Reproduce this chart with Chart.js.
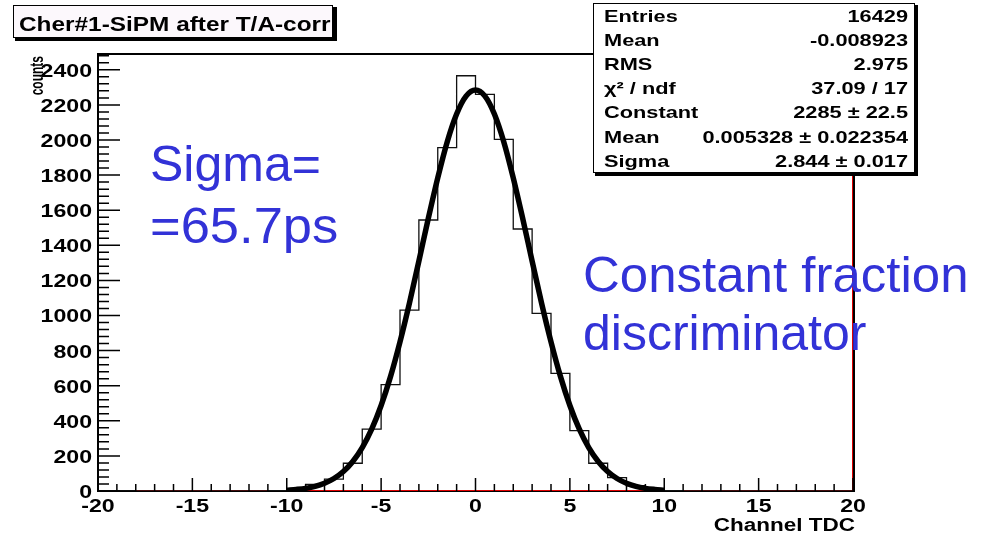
<!DOCTYPE html>
<html>
<head>
<meta charset="utf-8">
<script src="https://cdn.jsdelivr.net/npm/chart.js@4.4.1/dist/chart.umd.min.js"></script>
<style>
  html, body { margin: 0; padding: 0; background: #fff; }
  canvas { display: block; }
</style>
</head>
<body>
<canvas id="myChart" width="985" height="535"></canvas>
<script>
// bin low edges (width 1) + last upper edge
const binEdges = [-20, -19, -18, -17, -16, -15, -14, -13, -12, -11, -10, -9, -8, -7, -6, -5, -4, -3, -2, -1,
                  0, 1, 2, 3, 4, 5, 6, 7, 8, 9, 10, 11, 12, 13, 14, 15, 16, 17, 18, 19, 20];
// counts per bin
const binCounts = [0, 0, 0, 0, 0, 0, 0, 0, 0, 2, 10, 38, 68, 158, 352, 606, 1031, 1544, 1956, 2366,
                   2260, 2004, 1493, 1012, 670, 344, 158, 76, 30, 8, 2, 0, 0, 0, 0, 0, 0, 0, 0, 0];

// gaussian fit curve
const fitX = [-10, -9.5, -9, -8.5, -8, -7.5, -7, -6.5, -6, -5.5, -5, -4.5, -4, -3.5, -3, -2.5, -2, -1.5, -1, -0.5,
              0, 0.5, 1, 1.5, 2, 2.5, 3, 3.5, 4, 4.5, 5, 5.5, 6, 6.5, 7, 7.5, 8, 8.5, 9, 9.5, 10];
const fitY = [5, 9, 15, 26, 44, 71, 111, 168, 247, 352, 487, 653, 850, 1071, 1310, 1553, 1784, 1989, 2148, 2250,
              2285, 2250, 2148, 1989, 1784, 1553, 1310, 1071, 850, 653, 487, 352, 247, 168, 111, 71, 44, 26, 15, 9, 5];

// red outline (second histogram)
const redX = [-18, 20, 20];
const redY = [0, 0, 2490];

// tick labels
const xTickLabels = [-20, -15, -10, -5, 0, 5, 10, 15, 20];
const yTickLabels = [0, 200, 400, 600, 800, 1000, 1200, 1400, 1600, 1800, 2000, 2200, 2400];

// stats box
const statNames = ['Entries', 'Mean', 'RMS', 'χ² / ndf', 'Constant', 'Mean', 'Sigma'];
const statValues = ['16429', '-0.008923', '2.975', '37.09 / 17', '2285 ± 22.5', '0.005328 ± 0.022354', '2.844 ± 0.017'];

const FONT = '"Liberation Sans", Arial, sans-serif';
const SX = 1.25; // picture is stretched sideways

function sText(ctx, str, x, y, align, font, sx) {
    ctx.save();
    ctx.font = font;
    ctx.translate(x, y);
    ctx.scale(sx, 1);
    ctx.textAlign = align;
    ctx.textBaseline = 'alphabetic';
    ctx.fillText(str, 0, 0);
    ctx.restore();
}

const histPoints = binCounts.map((c, i) => ({ x: binEdges[i], y: c }));
histPoints.push({ x: binEdges[binEdges.length - 1], y: binCounts[binCounts.length - 1] });

// frame
const rootFrame = {
    id: 'rootFrame',
    beforeDatasetsDraw(chart) {
        const { ctx, chartArea: { left, right, top, bottom } } = chart;
        ctx.save();
        ctx.strokeStyle = '#000';
        ctx.lineWidth = 2;
        ctx.strokeRect(left, top, right - left + 1, bottom - top);
        ctx.restore();
    }
};

// ticks and labels, ROOT style (ticks inside)
const rootAxes = {
    id: 'rootAxes',
    afterDatasetsDraw(chart) {
        const { ctx, chartArea: { left, right, top, bottom }, scales: { x, y } } = chart;
        ctx.save();
        ctx.strokeStyle = '#000';
        ctx.lineWidth = 1.5;
        ctx.beginPath();
        for (let v = -20; v <= 20; v++) {
            const px = x.getPixelForValue(v);
            const len = v % 5 === 0 ? 13 : 7;
            ctx.moveTo(px, bottom);
            ctx.lineTo(px, bottom - len);
        }
        for (let v = 0; v <= 2480; v += 40) {
            const py = y.getPixelForValue(v);
            const len = v % 200 === 0 ? 22 : 11;
            ctx.moveTo(left, py);
            ctx.lineTo(left + len, py);
        }
        ctx.stroke();

        ctx.fillStyle = '#000';
        const tf = 'bold 18.5px ' + FONT;
        xTickLabels.forEach(v => {
            sText(ctx, String(v), x.getPixelForValue(v), bottom + 21, 'center', tf, SX);
        });
        yTickLabels.forEach(v => {
            sText(ctx, String(v), left - 6, y.getPixelForValue(v) + 7, 'right', tf, SX);
        });

        // axis titles
        sText(ctx, 'Channel TDC', right + 2, 531, 'right', 'bold 18px ' + FONT, SX);

        ctx.save();
        ctx.translate(43, 56);
        ctx.rotate(-Math.PI / 2);
        ctx.scale(1, 1.55);
        ctx.font = 'bold 12px ' + FONT;
        ctx.textAlign = 'right';
        ctx.textBaseline = 'alphabetic';
        ctx.fillText('counts', 0, 0);
        ctx.restore();
        ctx.restore();
    }
};

// title box, stats box and handwritten notes
const rootBoxes = {
    id: 'rootBoxes',
    afterDraw(chart) {
        const { ctx } = chart;
        ctx.save();

        // title
        ctx.fillStyle = '#000';
        ctx.fillRect(15, 7, 322, 34);
        ctx.fillStyle = '#fcf8fc';
        ctx.fillRect(13, 5, 320, 33);
        ctx.strokeStyle = '#000';
        ctx.lineWidth = 1;
        ctx.strokeRect(13.5, 5.5, 319, 32);
        ctx.fillStyle = '#000';
        sText(ctx, 'Cher#1-SiPM after T/A-corr', 19, 31, 'left', 'bold 19.5px ' + FONT, 1.25);

        // stats
        ctx.fillStyle = '#000';
        ctx.fillRect(595, 5, 323, 171);
        ctx.fillStyle = '#fff';
        ctx.fillRect(593, 3, 322, 170);
        ctx.strokeStyle = '#000';
        ctx.strokeRect(593.5, 3.5, 321, 169);
        ctx.fillStyle = '#000';
        statNames.forEach((n, i) => {
            const by = 22 + i * 24.1;
            sText(ctx, n, 604, by, 'left', 'bold 17px ' + FONT, 1.28);
            sText(ctx, statValues[i], 908, by, 'right', 'bold 17px ' + FONT, 1.28);
        });

        // notes
        ctx.fillStyle = 'rgb(50, 50, 215)';
        sText(ctx, 'Sigma=', 150, 181, 'left', '50px ' + FONT, 1);
        sText(ctx, '=65.7ps', 150, 243, 'left', '50px ' + FONT, 1.05);
        sText(ctx, 'Constant fraction', 583, 292, 'left', '50px ' + FONT, 1.02);
        sText(ctx, 'discriminator', 583, 350, 'left', '50px ' + FONT, 1);
        ctx.restore();
    }
};

const config = {
    type: 'line',
    data: {
        datasets: [
            {
                label: 'fit',
                data: fitX.map((v, i) => ({ x: v, y: fitY[i] })),
                borderColor: '#000',
                borderWidth: 5.5,
                pointRadius: 0,
                cubicInterpolationMode: 'monotone',
                order: 0
            },
            {
                label: 'counts',
                data: histPoints,
                borderColor: '#111',
                borderWidth: 1.3,
                pointRadius: 0,
                stepped: 'before',
                order: 1
            },
            {
                label: 'red',
                data: redX.map((v, i) => ({ x: v, y: redY[i] })),
                borderColor: '#e00000',
                borderWidth: 2,
                pointRadius: 0,
                order: 2
            }
        ]
    },
    options: {
        responsive: false,
        animation: false,
        layout: {
            padding: { left: 98, right: 132, top: 54, bottom: 44 }
        },
        scales: {
            x: { type: 'linear', min: -20, max: 20, display: false },
            y: { type: 'linear', min: 0, max: 2490, display: false }
        },
        plugins: {
            legend: { display: false },
            tooltip: { enabled: false }
        }
    },
    plugins: [rootFrame, rootAxes, rootBoxes]
};

const myChart = new Chart(document.getElementById('myChart'), config);
</script>
</body>
</html>
